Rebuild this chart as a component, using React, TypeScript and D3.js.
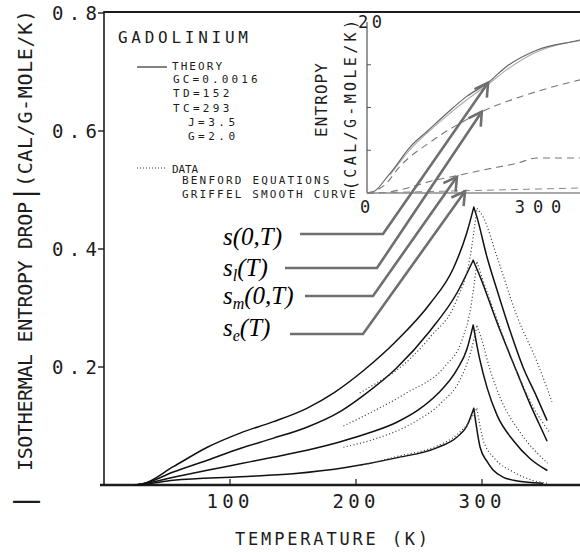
import React from 'react';
import * as d3 from 'd3';

type Pt = [number, number];

// ---------- main chart data (T in K, |ΔS| in cal/g-mole/K) ----------
const xTickValues = [100, 200, 300];
const xTickLabels = ['100', '200', '300'];
const yTickValues = [0.2, 0.4, 0.6, 0.8];
const yTickLabels = ['0.2', '0.4', '0.6', '0.8'];

const theory1Rise: Pt[] = [[25, 0], [31, 0.002], [55, 0.031], [82, 0.064], [108, 0.088], [134, 0.107], [161, 0.13], [183, 0.157], [206, 0.194], [232, 0.244], [259, 0.308], [277, 0.366], [288, 0.428], [293.5, 0.471]];
const theory1Fall: Pt[] = [[293.5, 0.471], [296, 0.454], [304, 0.386], [312, 0.33], [322, 0.263], [332.5, 0.2], [343.5, 0.149], [351.5, 0.11]];
const theory2Rise: Pt[] = [[25, 0], [31, 0.002], [55, 0.022], [82, 0.042], [108, 0.062], [134, 0.079], [161, 0.098], [187, 0.124], [206, 0.152], [232, 0.198], [259, 0.262], [280, 0.325], [293, 0.381]];
const theory2Fall: Pt[] = [[293, 0.381], [298.5, 0.353], [312, 0.275], [328, 0.19], [338, 0.138], [345, 0.105], [351.5, 0.075]];
const theory3Rise: Pt[] = [[25, 0], [31, 0.002], [55, 0.013], [82, 0.025], [108, 0.036], [134, 0.047], [161, 0.059], [187, 0.073], [210, 0.088], [232, 0.106], [250, 0.128], [265, 0.155], [280, 0.195], [288, 0.23], [293, 0.271]];
const theory3Fall: Pt[] = [[293, 0.271], [298, 0.215], [304, 0.165], [312, 0.118], [325, 0.075], [338, 0.045], [351.5, 0.025]];
const theory4Rise: Pt[] = [[25, 0], [31, 0.001], [55, 0.008], [108, 0.014], [150, 0.019], [193, 0.03], [232, 0.046], [264, 0.063], [280, 0.081], [288, 0.1], [293.5, 0.13]];
const theory4Fall: Pt[] = [[293.5, 0.13], [298.5, 0.064], [304, 0.04], [309, 0.025], [317, 0.013], [325, 0.008], [348, 0.003]];

const data1Rise: Pt[] = [[203, 0.156], [218, 0.175], [232.5, 0.195], [259, 0.251], [280, 0.314], [290.5, 0.386], [296, 0.469]];
const data1Fall: Pt[] = [[296, 0.469], [301, 0.454], [312, 0.386], [328, 0.285], [344, 0.207], [355.5, 0.141]];
const data2Rise: Pt[] = [[190, 0.1], [211, 0.122], [240, 0.156], [270, 0.2], [284, 0.245], [291, 0.3], [296, 0.378]];
const data2Fall: Pt[] = [[296, 0.378], [300, 0.352], [312, 0.28], [326, 0.2], [340, 0.135], [354, 0.088]];
const data3Rise: Pt[] = [[190, 0.064], [215, 0.078], [245, 0.105], [268, 0.14], [283, 0.18], [291, 0.225], [296, 0.27]];
const data3Fall: Pt[] = [[296, 0.27], [300, 0.245], [306, 0.198], [315, 0.145], [330, 0.09], [352, 0.037]];
const data4Rise: Pt[] = [[204, 0.033], [232, 0.048], [264, 0.066], [280, 0.085], [290, 0.108], [296, 0.13]];
const data4Fall: Pt[] = [[296, 0.13], [301, 0.076], [310, 0.045], [325, 0.022], [340, 0.008], [352, 0.003]];

// ---------- inset data (entropy, cal/g-mole/K) ----------
const insetXTicks = [0, 300];
const insetXTickLabels = ['0', '300'];
const insetYTicks = [5, 10, 15];
const insetYTopLabel = '20';

const totalTheory: Pt[] = [[0, 0], [5, 0], [40, 2.3], [75, 5.4], [104, 7.2], [138, 9.3], [173, 11.3], [208, 12.8], [242, 14.8], [294, 16.7], [369, 17.9], [380, 18.1]];
const totalData: Pt[] = [[40, 2.1], [75, 5.1], [104, 7.0], [138, 9.0], [173, 10.9], [208, 12.6], [242, 14.4], [294, 16.5], [369, 17.8]];
const latticeEntropy: Pt[] = [[0, 0], [30, 0.9], [57, 3.1], [115, 6.2], [173, 8.6], [202, 9.6], [259, 11.1], [311, 12.2], [380, 13.4]];
const magneticEntropy: Pt[] = [[0, 0], [30, 0.05], [59, 0.4], [118, 1.5], [154, 2.0], [202, 2.7], [261, 3.5], [295, 4.1], [380, 4.1]];
const electronicEntropy: Pt[] = [[0, 0], [380, 0.6]];

// arrow targets on inset curves: [T, S]
const arrowTargets: Pt[] = [[210, 12.9], [199, 9.5], [156, 1.9], [170, 0.2]];

const legendTheory = ['GC=0.0016', 'TD=152', 'TC=293', 'J=3.5', 'G=2.0'];
const legendData = ['BENFORD EQUATIONS', 'GRIFFEL SMOOTH CURVE'];

const MONO = '"DejaVu Sans Mono", monospace';
const SERIF = '"Liberation Serif", "Times New Roman", serif';

export default function App() {
  const x = d3.scaleLinear().domain([0, 300]).range([104, 482]);
  const y = d3.scaleLinear().domain([0, 0.8]).range([485, 13]);
  const xi = d3.scaleLinear().domain([0, 300]).range([367, 540]);
  const yi = d3.scaleLinear().domain([0, 20]).range([193, 22]);

  const mainLine = d3.line<Pt>().x(d => x(d[0])).y(d => y(d[1])).curve(d3.curveMonotoneX);
  const insetLine = d3.line<Pt>().x(d => xi(d[0])).y(d => yi(d[1])).curve(d3.curveMonotoneX);

  const theory = [[theory1Rise, theory1Fall], [theory2Rise, theory2Fall], [theory3Rise, theory3Fall], [theory4Rise, theory4Fall]];
  const data = [[data1Rise, data1Fall], [data2Rise, data2Fall], [data3Rise, data3Fall], [data4Rise, data4Fall]];

  const gray = '#6f6f6f';
  const ink = '#1c1c1c';

  // annotation layout
  const labels = [
    { base: 's', sub: '', rest: '(0,T)', ty: 245, ly: 234, lx0: 300, lx1: 383 },
    { base: 's', sub: 'l', rest: '(T)', ty: 276, ly: 268, lx0: 285, lx1: 377 },
    { base: 's', sub: 'm', rest: '(0,T)', ty: 304, ly: 296, lx0: 305, lx1: 373 },
    { base: 's', sub: 'e', rest: '(T)', ty: 336, ly: 334, lx0: 290, lx1: 363 },
  ];

  const arrowHead = (x1: number, y1: number, x2: number, y2: number) => {
    const dx = x2 - x1, dy = y2 - y1;
    const len = Math.hypot(dx, dy);
    const ux = dx / len, uy = dy / len;
    const L = 15, a = (30 * Math.PI) / 180;
    const arm = (s: number) => {
      const c = Math.cos(s * a), sn = Math.sin(s * a);
      const rx = -(ux * c - uy * sn), ry = -(ux * sn + uy * c);
      return [x2 + L * rx, y2 + L * ry];
    };
    const p1 = arm(1), p2 = arm(-1);
    return `M${p1[0]},${p1[1]}L${x2},${y2}L${p2[0]},${p2[1]}`;
  };

  return (
    <svg width={580} height={552} style={{ position: 'absolute', left: 0, top: 0, background: '#fff' }}>
      <rect x={0} y={0} width={580} height={552} fill="#fff" />

      {/* main frame */}
      <line x1={104} y1={12} x2={580} y2={12} stroke={ink} strokeWidth={2.2} />
      <line x1={104} y1={11} x2={104} y2={486} stroke={ink} strokeWidth={1.6} />
      <line x1={100} y1={485} x2={580} y2={485} stroke={ink} strokeWidth={2.6} />

      {/* y ticks */}
      {yTickValues.map((v, i) => (
        <g key={'yt' + i}>
          <line x1={98} x2={104} y1={y(v)} y2={y(v)} stroke={ink} strokeWidth={1.4} />
          <text x={97} y={y(v) + 7} textAnchor="end" fontFamily={MONO} fontSize={19} fill={ink}
            textLength={45} lengthAdjust="spacing">{yTickLabels[i]}</text>
        </g>
      ))}
      {/* x ticks */}
      {xTickValues.map((v, i) => (
        <g key={'xt' + i}>
          <line x1={x(v)} x2={x(v)} y1={485} y2={479} stroke={ink} strokeWidth={1.2} />
          <text x={x(v) - 2} y={508} textAnchor="middle" fontFamily={MONO} fontSize={19} fill={ink}
            textLength={43} lengthAdjust="spacing">{xTickLabels[i]}</text>
        </g>
      ))}

      {/* axis titles */}
      <text x={235} y={545} fontFamily={MONO} fontSize={17} fill={ink} textLength={193} lengthAdjust="spacing">TEMPERATURE (K)</text>
      <g transform="translate(33,502) rotate(-90)">
        <text x={0} y={0} textAnchor="middle" fontFamily={MONO} fontSize={26} fill={ink}>|</text>
      </g>
      <g transform="translate(32,471) rotate(-90)">
        <text x={0} y={0} fontFamily={MONO} fontSize={20} fill={ink} textLength={269} lengthAdjust="spacing">ISOTHERMAL ENTROPY DROP</text>
      </g>
      <g transform="translate(33,194) rotate(-90)">
        <text x={0} y={0} textAnchor="middle" fontFamily={MONO} fontSize={26} fill={ink}>|</text>
      </g>
      <g transform="translate(32,187) rotate(-90)">
        <text x={0} y={0} fontFamily={MONO} fontSize={20} fill={ink} textLength={177} lengthAdjust="spacing">(CAL/G-MOLE/K)</text>
      </g>

      {/* theory curves */}
      {theory.map((segs, i) => (
        <path key={'th' + i} d={(mainLine(segs[0]) || '') + (mainLine(segs[1]) || '')} fill="none" stroke="#111" strokeWidth={1.5} strokeLinejoin="round" strokeLinecap="round" />
      ))}
      {/* data curves */}
      {data.map((segs, i) => (
        <path key={'da' + i} d={(mainLine(segs[0]) || '') + (mainLine(segs[1]) || '')} fill="none" stroke="#444" strokeWidth={1.2} strokeDasharray="1.1 2.3" />
      ))}

      {/* legend */}
      <text x={118} y={43} fontFamily={MONO} fontSize={16} fill={ink} textLength={130} lengthAdjust="spacing">GADOLINIUM</text>
      <line x1={137} x2={167} y1={67} y2={67} stroke={ink} strokeWidth={1.1} />
      <text x={172} y={70} fontFamily={MONO} fontSize={11} fill={ink} textLength={50} lengthAdjust="spacing">THEORY</text>
      {legendTheory.map((t, i) => {
        const xs = [173, 173, 173, 188, 188];
        const ys = [83, 97, 112, 126, 140];
        const w = t.length * 9.4;
        return <text key={'lt' + i} x={xs[i]} y={ys[i]} fontFamily={MONO} fontSize={11} fill={ink} textLength={w} lengthAdjust="spacing">{t}</text>;
      })}
      <line x1={137} x2={166} y1={168} y2={168} stroke="#333" strokeWidth={1} strokeDasharray="1 2" />
      <text x={172} y={173} fontFamily={MONO} fontSize={11} fill={ink} textLength={26} lengthAdjust="spacing">DATA</text>
      {legendData.map((t, i) => (
        <text key={'ld' + i} x={182} y={184 + i * 14} fontFamily={MONO} fontSize={11} fill={ink} textLength={t.length * 8.67} lengthAdjust="spacing">{t}</text>
      ))}

      {/* inset axes */}
      <line x1={xi(0)} x2={xi(0)} y1={yi(20)} y2={yi(0)} stroke="#555" strokeWidth={1.2} />
      <line x1={xi(0)} x2={580} y1={yi(0)} y2={yi(0)} stroke="#555" strokeWidth={1.2} />
      {insetYTicks.map((v, i) => (
        <line key={'iyt' + i} x1={xi(0)} x2={xi(0) + 4} y1={yi(v)} y2={yi(v)} stroke="#555" strokeWidth={1} />
      ))}
      <text x={xi(0) + 3} y={yi(20) + 6} textAnchor="middle" fontFamily={MONO} fontSize={17} fill={ink} textLength={24} lengthAdjust="spacing">{insetYTopLabel}</text>
      {insetXTicks.map((v, i) => (
        <text key={'ixt' + i} x={xi(v) - 2} y={213} textAnchor="middle" fontFamily={MONO} fontSize={17} fill={ink}
          textLength={insetXTickLabels[i].length * 15.5} lengthAdjust="spacing">{insetXTickLabels[i]}</text>
      ))}
      <g transform="translate(327,137) rotate(-90)">
        <text x={0} y={0} fontFamily={MONO} fontSize={16} fill={ink} textLength={74} lengthAdjust="spacing">ENTROPY</text>
      </g>
      <g transform="translate(356,190) rotate(-90)">
        <text x={0} y={0} fontFamily={MONO} fontSize={15} fill={ink} textLength={170} lengthAdjust="spacing">(CAL/G-MOLE/K)</text>
      </g>

      {/* inset curves */}
      <path d={insetLine(totalData) || ''} fill="none" stroke="#aaa" strokeWidth={1.1} />
      <path d={insetLine(totalTheory) || ''} fill="none" stroke="#666" strokeWidth={1.2} />
      <path d={insetLine(latticeEntropy) || ''} fill="none" stroke="#777" strokeWidth={1.1} strokeDasharray="7 5" />
      <path d={insetLine(magneticEntropy) || ''} fill="none" stroke="#777" strokeWidth={1.1} strokeDasharray="7 5" />
      <path d={insetLine(electronicEntropy) || ''} fill="none" stroke="#888" strokeWidth={1} strokeDasharray="7 5" />

      {/* annotations */}
      {labels.map((l, i) => {
        const tx = xi(arrowTargets[i][0]);
        const ty = yi(arrowTargets[i][1]);
        return (
          <g key={'an' + i}>
            <text x={223} y={l.ty} fontFamily={SERIF} fontStyle="italic" fontSize={25} fill="#000">
              {l.base}
              {l.sub ? <tspan fontSize={16} dy={5}>{l.sub}</tspan> : null}
              {l.sub ? <tspan dy={-5}>{l.rest}</tspan> : <tspan>{l.rest}</tspan>}
            </text>
            <path d={`M${l.lx0},${l.ly}L${l.lx1},${l.ly}L${tx},${ty}`} fill="none" stroke={gray} strokeWidth={2.6} strokeLinejoin="miter" />
            <path d={arrowHead(l.lx1, l.ly, tx, ty)} fill="none" stroke={gray} strokeWidth={2.6} strokeLinecap="butt" />
          </g>
        );
      })}
    </svg>
  );
}
